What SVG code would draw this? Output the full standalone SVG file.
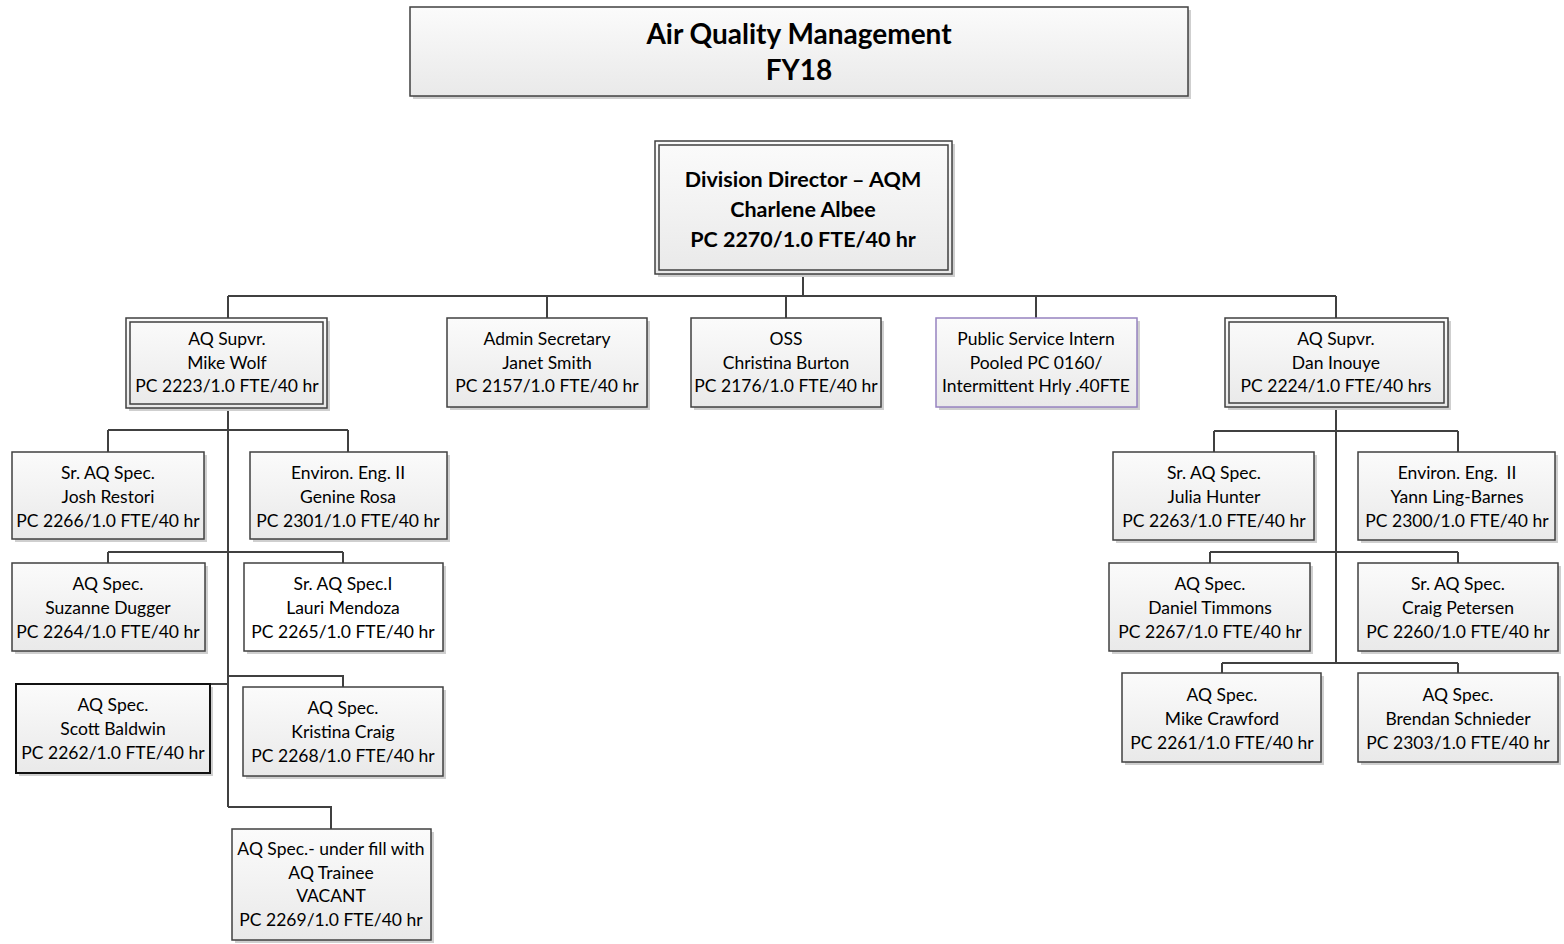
<svg xmlns="http://www.w3.org/2000/svg" width="1564" height="944" viewBox="0 0 1564 944">
  <defs>
    <linearGradient id="boxFill" x1="0" y1="0" x2="0" y2="1">
      <stop offset="0" stop-color="#fbfbfb"/>
      <stop offset="1" stop-color="#e9e9e9"/>
    </linearGradient>
    <style>
      .shadow { fill: #cfcfcf; }
      .box { fill: url(#boxFill); stroke: #404040; stroke-width: 1.5; }
      .plain { fill: #ffffff; stroke: #404040; stroke-width: 1.5; }
      .inner { fill: none; stroke: #404040; stroke-width: 1.5; }
      .dark { fill: url(#boxFill); stroke: #111111; stroke-width: 2; }
      .intern { fill: url(#boxFill); stroke: #9683c0; stroke-width: 1.5; }
      .wire { fill: none; stroke: #404040; stroke-width: 2; }
      text { font-family: Lato, "Liberation Sans", sans-serif; fill: #000; text-anchor: middle; white-space: pre; }
      .t { font-size: 17.5px; }
      .b { font-size: 21.5px; font-weight: bold; }
      .h { font-size: 28px; font-weight: bold; }
    </style>
  </defs>

  <!-- connectors -->
  <g id="connectors" class="wire">
    <path d="M803,272 V296 M228,296 H1336 M228,296 V318 M547,296 V318 M786,296 V318 M1036,296 V318 M1336,296 V318"/>
    <path d="M228,408 V807 M108,430 H348 M108,430 V452 M348,430 V452 M108,552 H343 M108,552 V563 M343,552 V563 M228,676 H343 V687 M210,684 H228 M228,807 H331 V829"/>
    <path d="M1336,407 V663 M1214,431 H1458 M1214,431 V452 M1458,431 V452 M1210,552 H1458 M1210,552 V563 M1458,552 V563 M1222,663 H1458 M1222,663 V673 M1458,663 V673"/>
  </g>

  <!-- title -->
  <g id="title">
    <rect class="shadow" x="413" y="10" width="778" height="89"/>
    <rect class="box" x="410" y="7" width="778" height="89"/>
    <text class="h" x="799" y="44">Air Quality Management</text>
    <text class="h" x="799" y="80">FY18</text>
  </g>

  <!-- division director -->
  <g id="director">
    <rect class="shadow" x="658" y="144" width="297" height="133"/>
    <rect class="box" x="655" y="141" width="297" height="133"/>
    <rect class="inner" x="659" y="145" width="289" height="125"/>
    <text class="b" x="803" y="187">Division Director – AQM</text>
    <text class="b" x="803" y="217">Charlene Albee</text>
    <text class="b" x="803" y="247">PC 2270/1.0 FTE/40 hr</text>
  </g>

  <!-- first level -->
  <g id="mike-wolf">
    <rect class="shadow" x="129" y="321" width="201" height="90"/>
    <rect class="box" x="126" y="318" width="201" height="90"/>
    <rect class="inner" x="130" y="322" width="193" height="82"/>
    <text class="t" x="227" y="345">AQ Supvr.</text>
    <text class="t" x="227" y="369">Mike Wolf</text>
    <text class="t" x="227" y="392">PC 2223/1.0 FTE/40 hr</text>
  </g>
  <g id="admin-secretary">
    <rect class="shadow" x="450" y="321" width="200" height="89"/>
    <rect class="box" x="447" y="318" width="200" height="89"/>
    <text class="t" x="547" y="345">Admin Secretary</text>
    <text class="t" x="547" y="369">Janet Smith</text>
    <text class="t" x="547" y="392">PC 2157/1.0 FTE/40 hr</text>
  </g>
  <g id="oss">
    <rect class="shadow" x="694" y="321" width="190" height="89"/>
    <rect class="box" x="691" y="318" width="190" height="89"/>
    <text class="t" x="786" y="345">OSS</text>
    <text class="t" x="786" y="369">Christina Burton</text>
    <text class="t" x="786" y="392">PC 2176/1.0 FTE/40 hr</text>
  </g>
  <g id="intern">
    <rect class="shadow" x="939" y="321" width="201" height="89"/>
    <rect class="intern" x="936" y="318" width="201" height="89"/>
    <text class="t" x="1036" y="345">Public Service Intern</text>
    <text class="t" x="1036" y="369">Pooled PC 0160/</text>
    <text class="t" x="1036" y="392">Intermittent Hrly .40FTE</text>
  </g>
  <g id="dan-inouye">
    <rect class="shadow" x="1228" y="321" width="223" height="89"/>
    <rect class="box" x="1225" y="318" width="223" height="89"/>
    <rect class="inner" x="1229" y="322" width="215" height="81"/>
    <text class="t" x="1336" y="345">AQ Supvr.</text>
    <text class="t" x="1336" y="369">Dan Inouye</text>
    <text class="t" x="1336" y="392">PC 2224/1.0 FTE/40 hrs</text>
  </g>

  <!-- Mike Wolf's team -->
  <g id="josh-restori">
    <rect class="shadow" x="15" y="455" width="192" height="87"/>
    <rect class="box" x="12" y="452" width="192" height="87"/>
    <text class="t" x="108" y="479">Sr. AQ Spec.</text>
    <text class="t" x="108" y="503">Josh Restori</text>
    <text class="t" x="108" y="527">PC 2266/1.0 FTE/40 hr</text>
  </g>
  <g id="genine-rosa">
    <rect class="shadow" x="253" y="455" width="197" height="87"/>
    <rect class="box" x="250" y="452" width="197" height="87"/>
    <text class="t" x="348" y="479">Environ. Eng. II</text>
    <text class="t" x="348" y="503">Genine Rosa</text>
    <text class="t" x="348" y="527">PC 2301/1.0 FTE/40 hr</text>
  </g>
  <g id="suzanne-dugger">
    <rect class="shadow" x="15" y="566" width="193" height="88"/>
    <rect class="box" x="12" y="563" width="193" height="88"/>
    <text class="t" x="108" y="590">AQ Spec.</text>
    <text class="t" x="108" y="614">Suzanne Dugger</text>
    <text class="t" x="108" y="638">PC 2264/1.0 FTE/40 hr</text>
  </g>
  <g id="lauri-mendoza">
    <rect class="shadow" x="247" y="566" width="199" height="88"/>
    <rect class="plain" x="244" y="563" width="199" height="88"/>
    <text class="t" x="343" y="590">Sr. AQ Spec.I</text>
    <text class="t" x="343" y="614">Lauri Mendoza</text>
    <text class="t" x="343" y="638">PC 2265/1.0 FTE/40 hr</text>
  </g>
  <g id="scott-baldwin">
    <rect class="shadow" x="19" y="687" width="194" height="89"/>
    <rect class="dark" x="16" y="684" width="194" height="89"/>
    <text class="t" x="113" y="711">AQ Spec.</text>
    <text class="t" x="113" y="735">Scott Baldwin</text>
    <text class="t" x="113" y="759">PC 2262/1.0 FTE/40 hr</text>
  </g>
  <g id="kristina-craig">
    <rect class="shadow" x="246" y="690" width="200" height="89"/>
    <rect class="box" x="243" y="687" width="200" height="89"/>
    <text class="t" x="343" y="714">AQ Spec.</text>
    <text class="t" x="343" y="738">Kristina Craig</text>
    <text class="t" x="343" y="762">PC 2268/1.0 FTE/40 hr</text>
  </g>
  <g id="vacant">
    <rect class="shadow" x="235" y="832" width="199" height="111"/>
    <rect class="box" x="232" y="829" width="199" height="111"/>
    <text class="t" x="331" y="855">AQ Spec.- under fill with</text>
    <text class="t" x="331" y="879">AQ Trainee</text>
    <text class="t" x="331" y="902">VACANT</text>
    <text class="t" x="331" y="926">PC 2269/1.0 FTE/40 hr</text>
  </g>

  <!-- Dan Inouye's team -->
  <g id="julia-hunter">
    <rect class="shadow" x="1116" y="455" width="201" height="88"/>
    <rect class="box" x="1113" y="452" width="201" height="88"/>
    <text class="t" x="1214" y="479">Sr. AQ Spec.</text>
    <text class="t" x="1214" y="503">Julia Hunter</text>
    <text class="t" x="1214" y="527">PC 2263/1.0 FTE/40 hr</text>
  </g>
  <g id="yann-ling-barnes">
    <rect class="shadow" x="1361" y="455" width="197" height="88"/>
    <rect class="box" x="1358" y="452" width="197" height="88"/>
    <text class="t" x="1457" y="479">Environ. Eng.  II</text>
    <text class="t" x="1457" y="503">Yann Ling-Barnes</text>
    <text class="t" x="1457" y="527">PC 2300/1.0 FTE/40 hr</text>
  </g>
  <g id="daniel-timmons">
    <rect class="shadow" x="1112" y="566" width="201" height="88"/>
    <rect class="box" x="1109" y="563" width="201" height="88"/>
    <text class="t" x="1210" y="590">AQ Spec.</text>
    <text class="t" x="1210" y="614">Daniel Timmons</text>
    <text class="t" x="1210" y="638">PC 2267/1.0 FTE/40 hr</text>
  </g>
  <g id="craig-petersen">
    <rect class="shadow" x="1361" y="566" width="200" height="88"/>
    <rect class="box" x="1358" y="563" width="200" height="88"/>
    <text class="t" x="1458" y="590">Sr. AQ Spec.</text>
    <text class="t" x="1458" y="614">Craig Petersen</text>
    <text class="t" x="1458" y="638">PC 2260/1.0 FTE/40 hr</text>
  </g>
  <g id="mike-crawford">
    <rect class="shadow" x="1125" y="676" width="199" height="89"/>
    <rect class="box" x="1122" y="673" width="199" height="89"/>
    <text class="t" x="1222" y="701">AQ Spec.</text>
    <text class="t" x="1222" y="725">Mike Crawford</text>
    <text class="t" x="1222" y="749">PC 2261/1.0 FTE/40 hr</text>
  </g>
  <g id="brendan-schnieder">
    <rect class="shadow" x="1361" y="676" width="200" height="89"/>
    <rect class="box" x="1358" y="673" width="200" height="89"/>
    <text class="t" x="1458" y="701">AQ Spec.</text>
    <text class="t" x="1458" y="725">Brendan Schnieder</text>
    <text class="t" x="1458" y="749">PC 2303/1.0 FTE/40 hr</text>
  </g>
</svg>
